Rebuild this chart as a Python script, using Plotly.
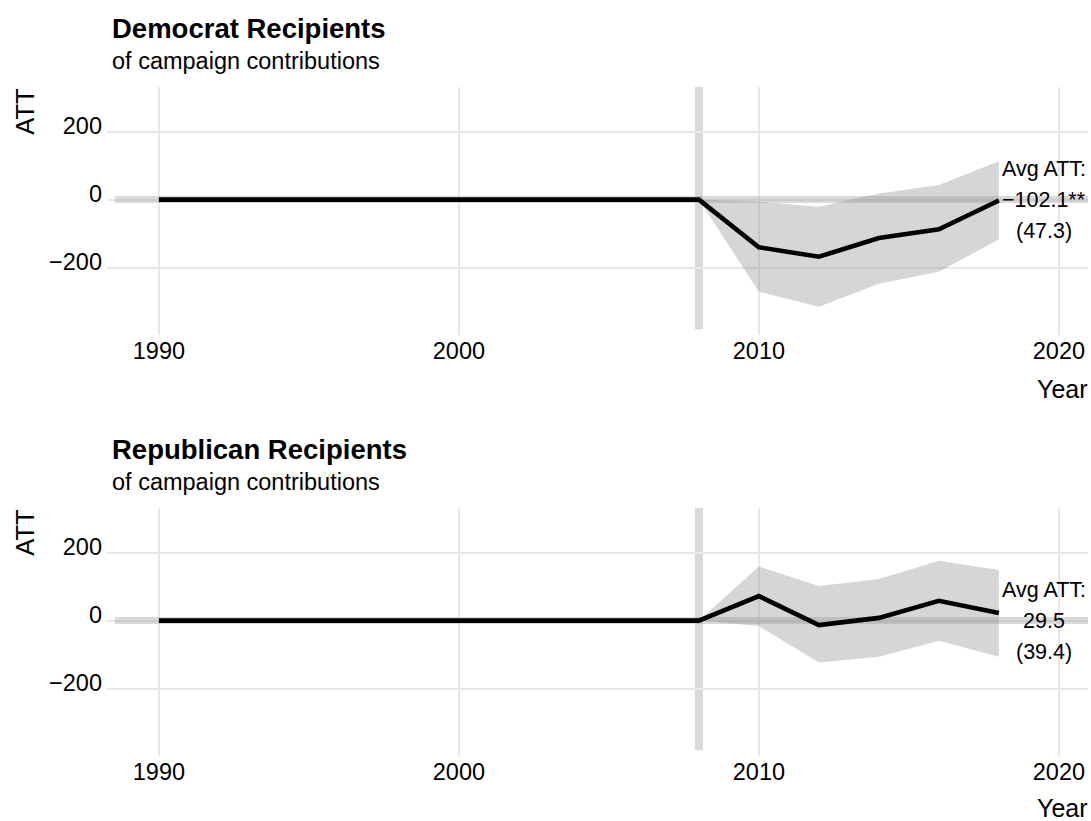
import plotly.graph_objects as go

W, H = 1091, 821
FONT = "Liberation Sans, Arial, Helvetica, sans-serif"

# ---- data -----------------------------------------------------------------
years = [1990, 1992, 1994, 1996, 1998, 2000, 2002, 2004, 2006, 2008,
         2010, 2012, 2014, 2016, 2018]

dem_att = [0, 0, 0, 0, 0, 0, 0, 0, 0, 0, -140, -168, -113, -87, -2.5]
dem_lower = [0, 0, 0, 0, 0, 0, 0, 0, 0, 0, -271, -315, -247, -212, -117]
dem_upper = [0, 0, 0, 0, 0, 0, 0, 0, 0, 0, -6, -21, 18, 43, 113]

rep_att = [0, 0, 0, 0, 0, 0, 0, 0, 0, 0, 72, -13, 8, 58, 22.5]
rep_lower = [0, 0, 0, 0, 0, 0, 0, 0, 0, 0, -16, -123, -106, -59, -106]
rep_upper = [0, 0, 0, 0, 0, 0, 0, 0, 0, 0, 159, 102, 122, 176, 149]

panel_titles = ["Democrat Recipients", "Republican Recipients"]
panel_subtitle = "of campaign contributions"
avg_labels = ["−102.1**", "29.5"]
se_labels = ["(47.3)", "(39.4)"]

x_tickvals = [1990, 2000, 2010, 2020]
x_ticktext = ["1990", "2000", "2010", "2020"]
y_tickvals = [-200, 0, 200]
y_ticktext = ["−200", "0", "200"]

treatment_year = 2008
reference_y = 0

# ---- layout helpers -----------------------------------------------------
X_RANGE = [1988.27, 2020.97]
Y_RANGE = [-398, 331]
HLINE_START = 1988.53
VLINE_SPAN = [-381, 331]
LABEL_X = 2019.5
LABEL_OFFSET = 91  # vertical spacing of the Avg ATT text lines (data units)

PLOT_LEFT, PLOT_RIGHT = 107, 1088
PANELS_PX = [(87, 335), (508, 756)]  # top/bottom pixel edges of each panel


def px_x(p):
    return p / W


def px_y(p):
    return 1 - p / H


fig = go.Figure()

series = [
    (dem_att, dem_lower, dem_upper),
    (rep_att, rep_lower, rep_upper),
]

annotations = []
shapes = []

for i, (att, lo, hi) in enumerate(series):
    sfx = "" if i == 0 else str(i + 1)
    xa, ya = "x" + sfx, "y" + sfx

    # confidence ribbon
    fig.add_trace(go.Scatter(x=years, y=hi, xaxis=xa, yaxis=ya, mode="lines",
                             line=dict(width=0), hoverinfo="skip",
                             showlegend=False))
    fig.add_trace(go.Scatter(x=years, y=lo, xaxis=xa, yaxis=ya, mode="lines",
                             line=dict(width=0), fill="tonexty",
                             fillcolor="rgba(128,128,128,0.32)",
                             hoverinfo="skip", showlegend=False))
    # zero reference band
    fig.add_trace(go.Scatter(x=[HLINE_START, X_RANGE[1]],
                             y=[reference_y, reference_y],
                             xaxis=xa, yaxis=ya, mode="lines",
                             line=dict(width=7, color="rgba(150,150,150,0.35)"),
                             hoverinfo="skip", showlegend=False))
    # ATT estimate
    fig.add_trace(go.Scatter(x=years, y=att, xaxis=xa, yaxis=ya, mode="lines",
                             line=dict(width=4.6, color="black"),
                             showlegend=False))

    # treatment onset marker
    shapes.append(dict(type="line", xref=xa, yref=ya,
                       x0=treatment_year, x1=treatment_year,
                       y0=VLINE_SPAN[0], y1=VLINE_SPAN[1],
                       line=dict(width=8, color="#d9d9d9"), layer="below"))

    top, bottom = PANELS_PX[i]
    dom_y = [px_y(bottom), px_y(top)]
    dom_x = [px_x(PLOT_LEFT), px_x(PLOT_RIGHT)]

    axis_font = dict(family=FONT, size=23.5, color="black")
    fig.update_layout(**{
        "xaxis" + sfx: dict(domain=dom_x, range=X_RANGE, anchor=ya,
                            tickvals=x_tickvals, ticktext=x_ticktext,
                            showgrid=True, gridcolor="#e8e8e8", gridwidth=1.6,
                            zeroline=False, showline=False,
                            ticks="", ticklabelstandoff=-1,
                            tickfont=axis_font, fixedrange=True),
        "yaxis" + sfx: dict(domain=dom_y, range=Y_RANGE, anchor=xa,
                            tickvals=y_tickvals, ticktext=y_ticktext,
                            showgrid=True, gridcolor="#e8e8e8", gridwidth=1.6,
                            zeroline=False, showline=False,
                            ticks="", ticklabelstandoff=4,
                            ticklabelshift=-6,
                            tickfont=axis_font, fixedrange=True),
    })

    dy = 421 * i
    # panel title and subtitle
    annotations.append(dict(text="<b>%s</b>" % panel_titles[i],
                            xref="paper", yref="paper",
                            x=px_x(110), y=px_y(28.5 + dy),
                            xanchor="left", yanchor="middle", showarrow=False,
                            font=dict(family=FONT, size=27.5, color="black")))
    annotations.append(dict(text=panel_subtitle,
                            xref="paper", yref="paper",
                            x=px_x(110), y=px_y(61 + dy),
                            xanchor="left", yanchor="middle", showarrow=False,
                            font=dict(family=FONT, size=23.5, color="black")))
    # axis titles
    annotations.append(dict(text="ATT", xref="paper", yref="paper",
                            x=px_x(25), y=px_y(111.7 + dy),
                            xanchor="center", yanchor="middle", textangle=-90,
                            showarrow=False,
                            font=dict(family=FONT, size=25.5, color="black")))
    annotations.append(dict(text="Year", xref="paper", yref="paper",
                            x=px_x(PLOT_RIGHT + 2), y=px_y(389 + 419 * i),
                            xanchor="right", yanchor="middle",
                            showarrow=False,
                            font=dict(family=FONT, size=25, color="black")))
    # average effect label
    for txt, yv in (("Avg ATT:", LABEL_OFFSET),
                    (avg_labels[i], reference_y),
                    (se_labels[i], -LABEL_OFFSET)):
        annotations.append(dict(text=txt, xref=xa, yref=ya, x=LABEL_X, y=yv,
                                xanchor="center", yanchor="middle",
                                showarrow=False,
                                font=dict(family=FONT, size=21.5, color="black")))

fig.update_layout(
    width=W, height=H,
    margin=dict(l=0, r=0, t=0, b=0),
    paper_bgcolor="white", plot_bgcolor="white",
    showlegend=False,
    annotations=annotations,
    shapes=shapes,
    font=dict(family=FONT, color="black"),
)

fig.write_html("out.html")
